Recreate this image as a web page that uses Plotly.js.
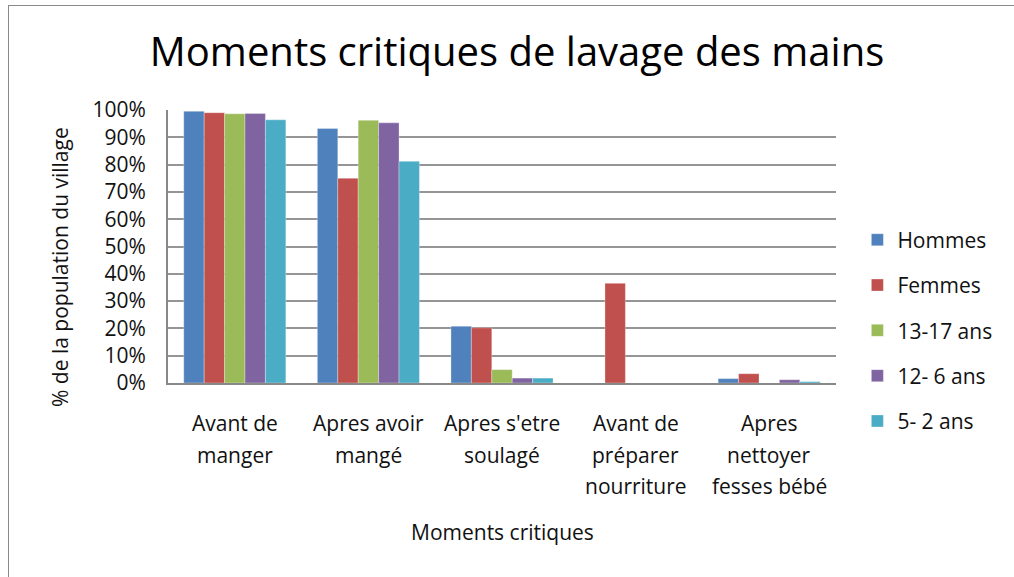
<!DOCTYPE html>
<html>
<head>
<meta charset="utf-8">
<script src="https://cdn.plot.ly/plotly-3.0.1.min.js"></script>
<style>
  html, body { margin: 0; padding: 0; background: #fff; }
  #wrap { position: relative; width: 1014px; height: 577px; overflow: hidden; }
  #chart { position: absolute; left: 0; top: 0; width: 1014px; height: 577px; }
  #frame { position: absolute; left: 8px; top: 5px; width: 1100px; height: 700px;
           border-left: 1px solid #8a8a8a; border-top: 1px solid #8a8a8a; pointer-events: none; }
</style>
</head>
<body>
<div id="wrap">
  <div id="chart"></div>
  <div id="frame"></div>
</div>
<script>
// ---- data ----
const categories = [
  "Avant de<br>manger",
  "Apres avoir<br>mangé",
  "Apres s'etre<br>soulagé",
  "Avant de<br>préparer<br>nourriture",
  "Apres<br>nettoyer<br>fesses bébé"
];
const seriesNames = ["Hommes", "Femmes", "13-17 ans", "12- 6 ans", "5- 2 ans"];
const hommes   = [0.995, 0.932, 0.208, 0.000, 0.016];
const femmes   = [0.990, 0.750, 0.202, 0.365, 0.034];
const ado      = [0.986, 0.962, 0.049, 0.000, 0.000];
const enfants  = [0.987, 0.953, 0.018, 0.000, 0.012];
const petits   = [0.964, 0.812, 0.018, 0.000, 0.005];
const seriesValues = [hommes, femmes, ado, enfants, petits];
const colors = ["#4F81BD", "#C0504D", "#9BBB59", "#8064A2", "#4BACC6"];

const FONT = "'Open Sans', Lato, sans-serif";
const TXT = "#111";
const FS = 21;

const traces = seriesNames.map((name, i) => ({
  type: "bar",
  name: name,
  x: categories,
  y: seriesValues[i],
  legendgroup: "g" + i,
  marker: { color: colors[i], line: { color: "rgba(255,255,255,0.5)", width: 0.6 } },
  hoverinfo: "skip"
}));

// category labels, one annotation per line
const annotations = [];
categories.forEach(cat => {
  cat.split("<br>").forEach((line, j) => {
    annotations.push({
      text: line, x: cat, xref: "x", y: 0, yref: "paper",
      yanchor: "middle", xanchor: "center", showarrow: false,
      yshift: -(40 + j * 31.5),
      font: { family: FONT, size: FS, color: TXT }
    });
  });
});
annotations.push({
  text: "Moments critiques", x: 0.5, xref: "paper", y: 0, yref: "paper",
  yanchor: "middle", xanchor: "center", showarrow: false, yshift: -149,
  font: { family: FONT, size: FS, color: TXT }
});
annotations.push({
  text: "% de la population du village", x: 0, xref: "paper", xshift: -108,
  y: 0.425, yref: "paper", textangle: -90, showarrow: false,
  xanchor: "center", yanchor: "middle",
  font: { family: FONT, size: FS, color: TXT }
});

const layout = {
  width: 1014, height: 577,
  margin: { l: 168, r: 178, t: 110, b: 194 },
  paper_bgcolor: "#fff", plot_bgcolor: "#fff",
  font: { family: FONT, color: TXT },
  title: {
    text: "Moments critiques de lavage des mains",
    x: 0.5225, xanchor: "center", xref: "paper",
    y: 0.91, yanchor: "middle", yref: "container",
    font: { family: FONT, size: 40, color: "#000" }
  },
  barmode: "group",
  bargap: 0.236,
  bargroupgap: 0,
  xaxis: {
    type: "category",
    showticklabels: false,
    showline: true, linecolor: "#888", linewidth: 2,
    showgrid: false, zeroline: false, ticks: ""
  },
  yaxis: {
    range: [0, 1],
    dtick: 0.1,
    tickformat: ".0%",
    showline: true, linecolor: "#888", linewidth: 2,
    showgrid: true, gridcolor: "#959595", gridwidth: 2,
    zeroline: false, ticks: "",
    ticklabelstandoff: 16,
    tickfont: { family: FONT, size: FS, color: TXT }
  },
  legend: {
    x: 1.032, xanchor: "left", xref: "paper",
    y: 0.192, yanchor: "middle", yref: "paper",
    traceorder: "grouped",
    tracegroupgap: 15,
    font: { family: FONT, size: FS, color: TXT },
    bgcolor: "rgba(0,0,0,0)"
  },
  annotations: annotations,
  showlegend: true
};

Plotly.newPlot("chart", traces, layout, { displayModeBar: false, staticPlot: true });
</script>
</body>
</html>
